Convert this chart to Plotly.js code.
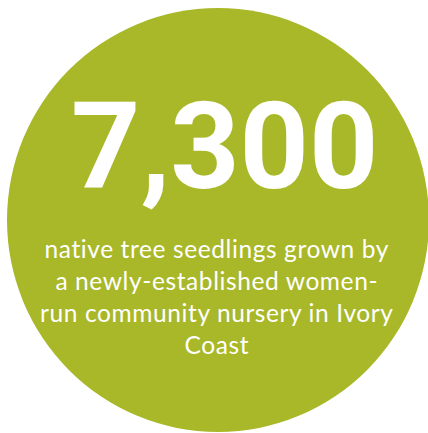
<!DOCTYPE html>
<html>
<head>
<meta charset="utf-8">
<script src="https://cdn.plot.ly/plotly-3.0.1.min.js"></script>
<style>html,body{margin:0;padding:0;background:#fff;}</style>
</head>
<body>
<div id="chart" style="width:428px;height:433px;"></div>
<script>
const headline = ["7,300"];
const captionLines = [
  "native tree seedlings grown by",
  "a newly-established women-",
  "run community nursery in Ivory",
  "Coast"
];
const circleColor = "#a9b829";

const layout = {
  width: 428, height: 433,
  margin: {l: 0, r: 0, t: 0, b: 0},
  paper_bgcolor: "#ffffff", plot_bgcolor: "#ffffff",
  showlegend: false,
  xaxis: {range: [0, 428], visible: false, fixedrange: true},
  yaxis: {range: [433, 0], visible: false, fixedrange: true},
  shapes: [{
    type: "circle", xref: "x", yref: "y",
    x0: 7, x1: 429, y0: 8, y1: 432,
    fillcolor: circleColor, line: {width: 0}, layer: "below"
  }],
  annotations: [
    {
      x: 224, y: 147, xref: "x", yref: "y",
      text: headline[0], showarrow: false,
      xanchor: "center", yanchor: "middle",
      font: {family: "Roboto", size: 121, color: "#ffffff", weight: 700}
    },
    {
      x: 217, y: 296, xref: "x", yref: "y",
      text: captionLines.map(s => '<span style="letter-spacing:0.6px">' + s + '</span>').join("<br>"),
      showarrow: false,
      xanchor: "center", yanchor: "middle", align: "center",
      font: {family: "Lato", size: 24.5, color: "#ffffff"}
    }
  ]
};

Plotly.newPlot("chart", [], layout, {staticPlot: true, displayModeBar: false});
</script>
</body>
</html>
